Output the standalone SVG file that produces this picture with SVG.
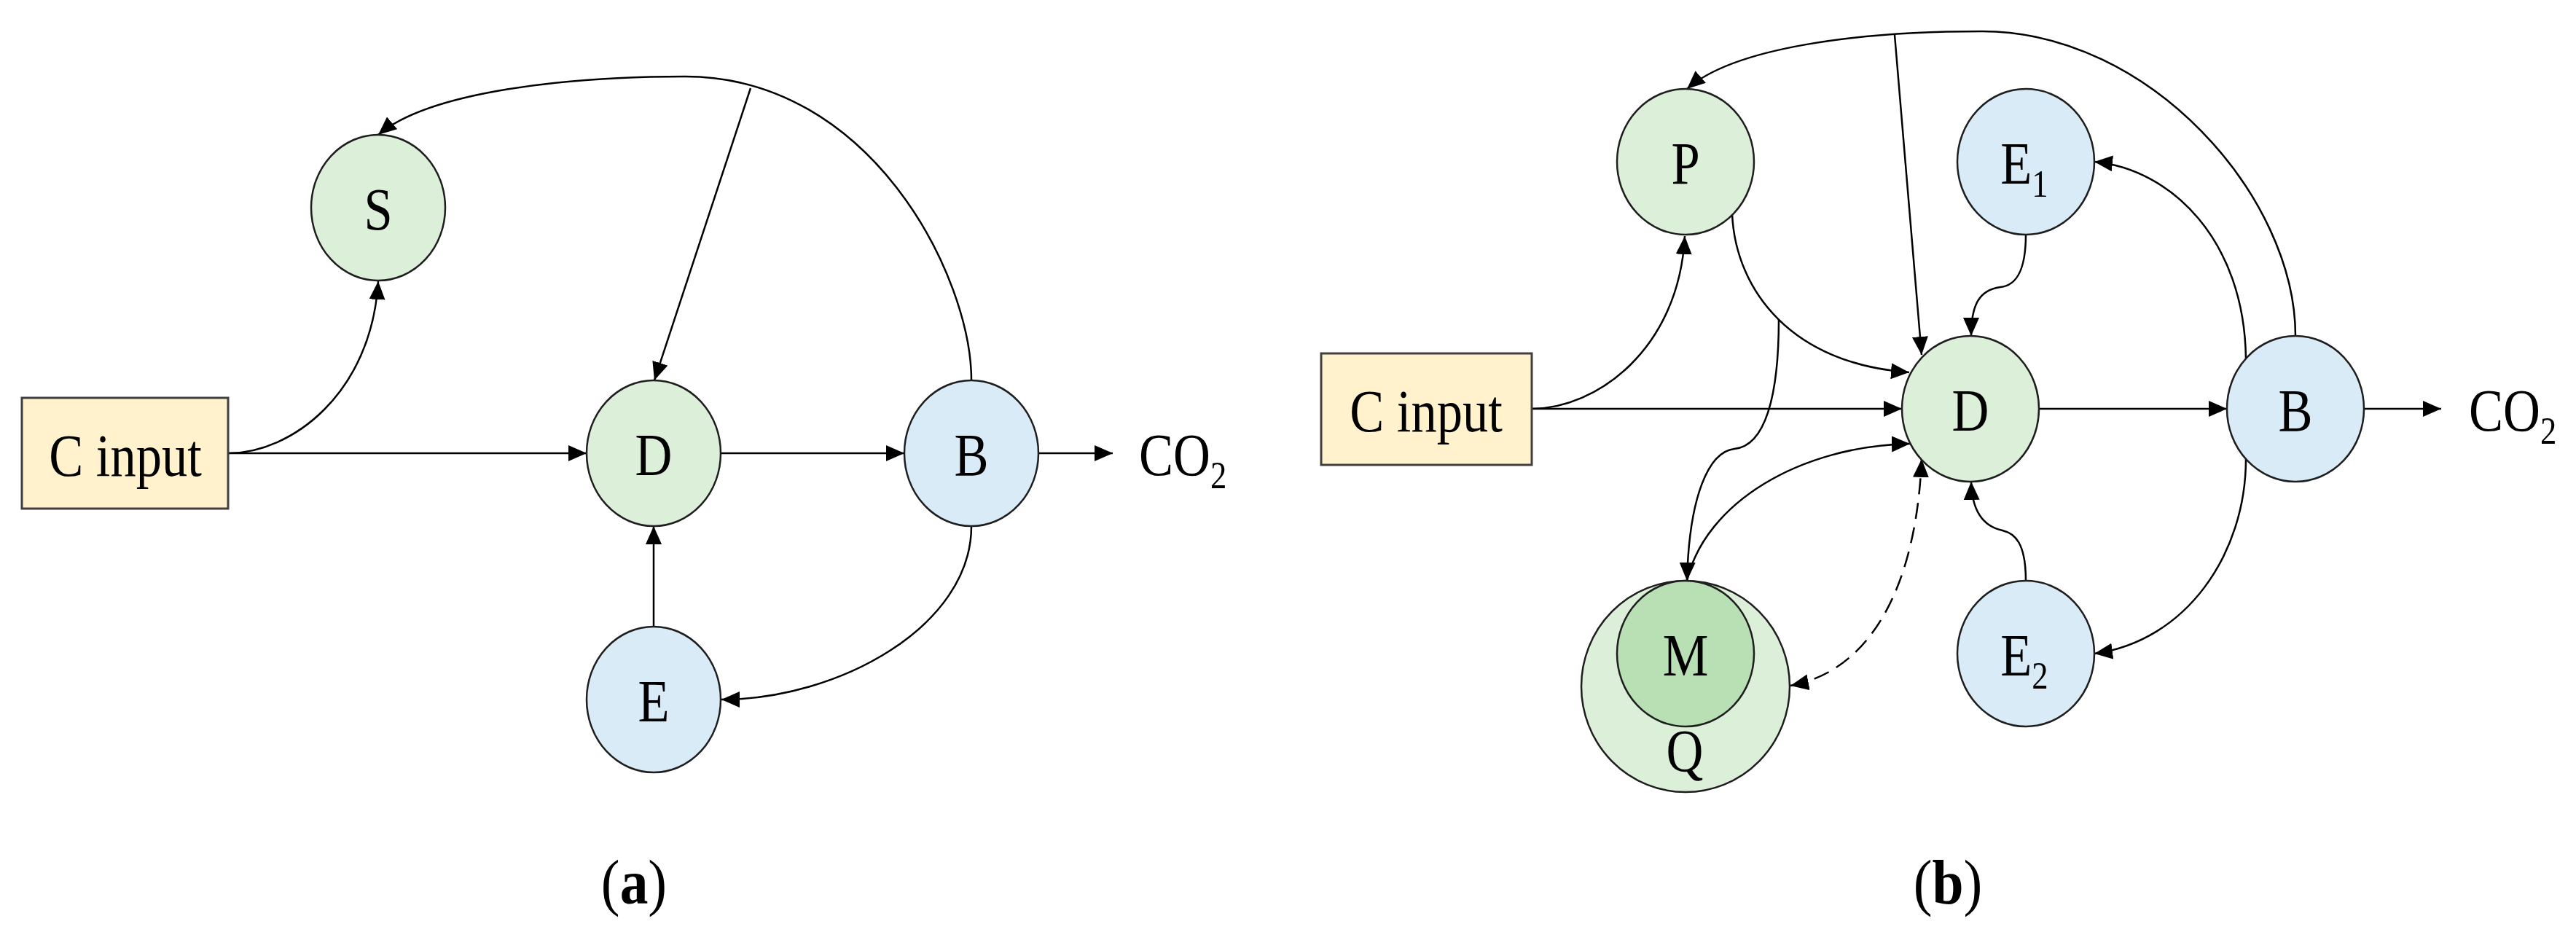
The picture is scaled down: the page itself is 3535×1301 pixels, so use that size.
<svg xmlns="http://www.w3.org/2000/svg" width="3535" height="1301" viewBox="0 0 3535 1301">
<style>
  .green { fill: #DCEFD9; stroke: #1e1e1e; stroke-width: 2.5; }
  .dgreen { fill: #B9E0B4; stroke: #1e1e1e; stroke-width: 2.5; }
  .blue { fill: #DAEBF8; stroke: #1e1e1e; stroke-width: 2.5; }
  .box { fill: #FFF2CC; stroke: #404040; stroke-width: 3; }
  .lbl { font-family: "Liberation Serif", "Times New Roman", serif; font-size: 82px; fill: #000; text-anchor: middle; }
  .lbls { font-family: "Liberation Serif", "Times New Roman", serif; font-size: 82px; fill: #000; text-anchor: start; }
  .cap { font-family: "Liberation Serif", "Times New Roman", serif; font-size: 87px; fill: #000; text-anchor: middle; }
  .edge { fill: none; stroke: #000; stroke-width: 2.5; marker-end: url(#arrow); }
  .plain { fill: none; stroke: #000; stroke-width: 2.5; }
  .dash { fill: none; stroke: #000; stroke-width: 2.5; stroke-dasharray: 22 12; marker-end: url(#arrow); marker-start: url(#arrow); }
</style>
<defs>
  <marker id="arrow" markerUnits="userSpaceOnUse" markerWidth="26" markerHeight="24" refX="25" refY="11" orient="auto-start-reverse" viewBox="0 0 26 24">
    <path d="M0,0 L25,11 L0,22 z" fill="#000"/>
  </marker>
</defs>
<rect width="3535" height="1301" fill="#fff"/>

<!-- Panel (a) connectors -->
<g id="connectors-a">
  <path class="edge" d="M313,622 H805"/>
  <path class="edge" d="M313,622 C400,622 510,540 519,386"/>
  <path class="edge" d="M989,622 H1241"/>
  <path class="edge" d="M1425,622 H1527"/>
  <path class="edge" d="M1333,522 C1333,380 1196,105 940,105 C780,105 590,125 519,185"/>
  <path class="edge" d="M1030,121 L898,522"/>
  <path class="edge" d="M897,860 V722"/>
  <path class="edge" d="M1333,722 C1333,860 1150,960 990,960"/>
</g>

<!-- Panel (a) nodes -->
<g id="a-cinput">
  <rect class="box" x="30" y="546" width="283" height="152"/>
  <text class="lbl" transform="translate(172 653) scale(0.86 1)">C input</text>
</g>
<g id="a-S">
  <ellipse class="green" cx="519" cy="285" rx="92" ry="100"/>
  <text class="lbl" transform="translate(519 315) scale(0.86 1)">S</text>
</g>
<g id="a-D">
  <ellipse class="green" cx="897" cy="622" rx="92" ry="100"/>
  <text class="lbl" transform="translate(897 652) scale(0.86 1)">D</text>
</g>
<g id="a-B">
  <ellipse class="blue" cx="1333" cy="622" rx="92" ry="100"/>
  <text class="lbl" transform="translate(1333 652) scale(0.86 1)">B</text>
</g>
<g id="a-E">
  <ellipse class="blue" cx="897" cy="960" rx="92" ry="100"/>
  <text class="lbl" transform="translate(897 990) scale(0.86 1)">E</text>
</g>
<g id="a-CO2">
  <text class="lbls" transform="translate(1563 652) scale(0.86 1)">CO<tspan font-size="52" dy="18">2</tspan></text>
</g>
<g id="a-caption">
  <text class="cap" transform="translate(870 1240) scale(0.89 1)">(<tspan font-weight="bold">a</tspan>)</text>
</g>

<!-- Panel (b) connectors -->
<g id="connectors-b">
  <path class="edge" d="M2102,561 H2610"/>
  <path class="edge" d="M2102,561 C2190,561 2304,480 2312,324"/>
  <path class="edge" d="M2798,561 H3056"/>
  <path class="edge" d="M3244,561 H3350"/>
  <path class="edge" d="M3150,461 C3150,270 2950,43 2720,43 C2550,43 2380,65 2315,122"/>
  <path class="edge" d="M2600,48 L2637,487"/>
  <path class="edge" d="M2377,294 C2382,400 2460,500 2620,511"/>
  <path class="edge" d="M2441,438 C2441,545 2422,612 2380,616 C2345,620 2318,680 2315,797"/>
  <path class="edge" d="M2315,797 C2340,690 2470,612 2621,609"/>
  <path class="dash" d="M2457,941 C2570,920 2630,800 2637,630"/>
  <path class="edge" d="M2780,322 C2780,375 2765,392 2745,394 C2715,398 2705,420 2705,461"/>
  <path class="edge" d="M2780,797 C2780,745 2765,732 2748,728 C2720,722 2706,700 2705,661"/>
  <path class="edge" d="M3082,492 C3080,330 2980,232 2874,222"/>
  <path class="edge" d="M3082,630 C3082,760 3000,880 2874,897"/>
</g>

<!-- Panel (b) nodes -->
<g id="b-cinput">
  <rect class="box" x="1813" y="485" width="289" height="153"/>
  <text class="lbl" transform="translate(1957 592) scale(0.86 1)">C input</text>
</g>
<g id="b-P">
  <ellipse class="green" cx="2313" cy="222" rx="94" ry="100"/>
  <text class="lbl" transform="translate(2313 252) scale(0.86 1)">P</text>
</g>
<g id="b-E1">
  <ellipse class="blue" cx="2780" cy="222" rx="94" ry="100"/>
  <text class="lbl" transform="translate(2778 252) scale(0.86 1)">E<tspan font-size="52" dy="18">1</tspan></text>
</g>
<g id="b-D">
  <ellipse class="green" cx="2704" cy="561" rx="94" ry="100"/>
  <text class="lbl" transform="translate(2704 591) scale(0.86 1)">D</text>
</g>
<g id="b-B">
  <ellipse class="blue" cx="3150" cy="561" rx="94" ry="100"/>
  <text class="lbl" transform="translate(3150 591) scale(0.86 1)">B</text>
</g>
<g id="b-E2">
  <ellipse class="blue" cx="2780" cy="897" rx="94" ry="100"/>
  <text class="lbl" transform="translate(2778 927) scale(0.86 1)">E<tspan font-size="52" dy="18">2</tspan></text>
</g>
<g id="b-Q">
  <ellipse class="green" cx="2313" cy="942" rx="143" ry="145"/>
  <text class="lbl" transform="translate(2312 1058) scale(0.86 1)">Q</text>
</g>
<g id="b-M">
  <ellipse class="dgreen" cx="2313" cy="897" rx="94" ry="100"/>
  <text class="lbl" transform="translate(2313 927) scale(0.86 1)">M</text>
</g>
<g id="b-CO2">
  <text class="lbls" transform="translate(3388 591) scale(0.86 1)">CO<tspan font-size="52" dy="18">2</tspan></text>
</g>
<g id="b-caption">
  <text class="cap" transform="translate(2673 1240) scale(0.89 1)">(<tspan font-weight="bold">b</tspan>)</text>
</g>
</svg>
